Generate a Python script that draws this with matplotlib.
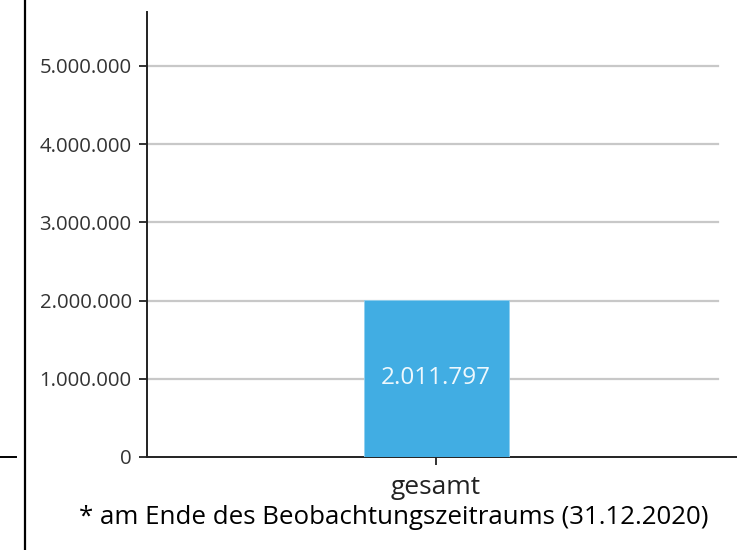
import matplotlib
matplotlib.use('Agg')
import matplotlib.pyplot as plt
from matplotlib.ticker import FuncFormatter
from matplotlib.lines import Line2D

# data
categories = ['gesamt']
values = [2011797]
y_ticks = [0, 1000000, 2000000, 3000000, 4000000, 5000000]
footnote = '* am Ende des Beobachtungszeitraums (31.12.2020)'

plt.rcParams['font.family'] = ['Open Sans', 'DejaVu Sans']

def de_fmt(v, pos=None):
    return f'{int(v):,}'.replace(',', '.')

fig = plt.figure(figsize=(7.37, 5.5), dpi=100)
W, H = 737, 550
ax = fig.add_axes([147 / W, 93 / H, 590 / W, 445 / H])

xs = list(range(len(categories)))
bars = ax.bar(xs, values, width=0.5, color='#41ade3', edgecolor='#8fd0f0',
              linewidth=0.6, zorder=3)

for b, v in zip(bars, values):
    ax.text(b.get_x() + b.get_width() / 2, v / 2, de_fmt(v), ha='center',
            va='center', color='#eef8fd', fontsize=17.5, zorder=4)

ax.set_xlim(-0.997, 1.038)
ax.set_ylim(0, 5690000)

for t in y_ticks[1:]:
    ax.axhline(t, xmin=0, xmax=0.968, color='#c8c8c8', lw=1.6, zorder=1)

ax.set_yticks(y_ticks)
ax.yaxis.set_major_formatter(FuncFormatter(de_fmt))
ax.set_xticks(xs)
ax.set_xticklabels(categories)

ax.tick_params(axis='y', length=6, width=1.3, pad=5, labelsize=14.7,
               labelcolor='#333333', color='#222222')
ax.tick_params(axis='x', length=6, width=1.3, pad=7, labelsize=19,
               labelcolor='#222222', color='#222222')

for s in ['top', 'right']:
    ax.spines[s].set_visible(False)
for s in ['left', 'bottom']:
    ax.spines[s].set_linewidth(1.4)
    ax.spines[s].set_color('#222222')

fig.text(394 / W, 1 - 518 / H, footnote, ha='center', va='center',
         fontsize=18.6, color='black')

# table borders around the chart
fig.add_artist(Line2D([25 / W, 25 / W], [0, 1], color='black', lw=1.6))
fig.add_artist(Line2D([0, 16 / W], [1 - 457 / H, 1 - 457 / H], color='black', lw=1.4))

fig.savefig('out.png', dpi=100)
